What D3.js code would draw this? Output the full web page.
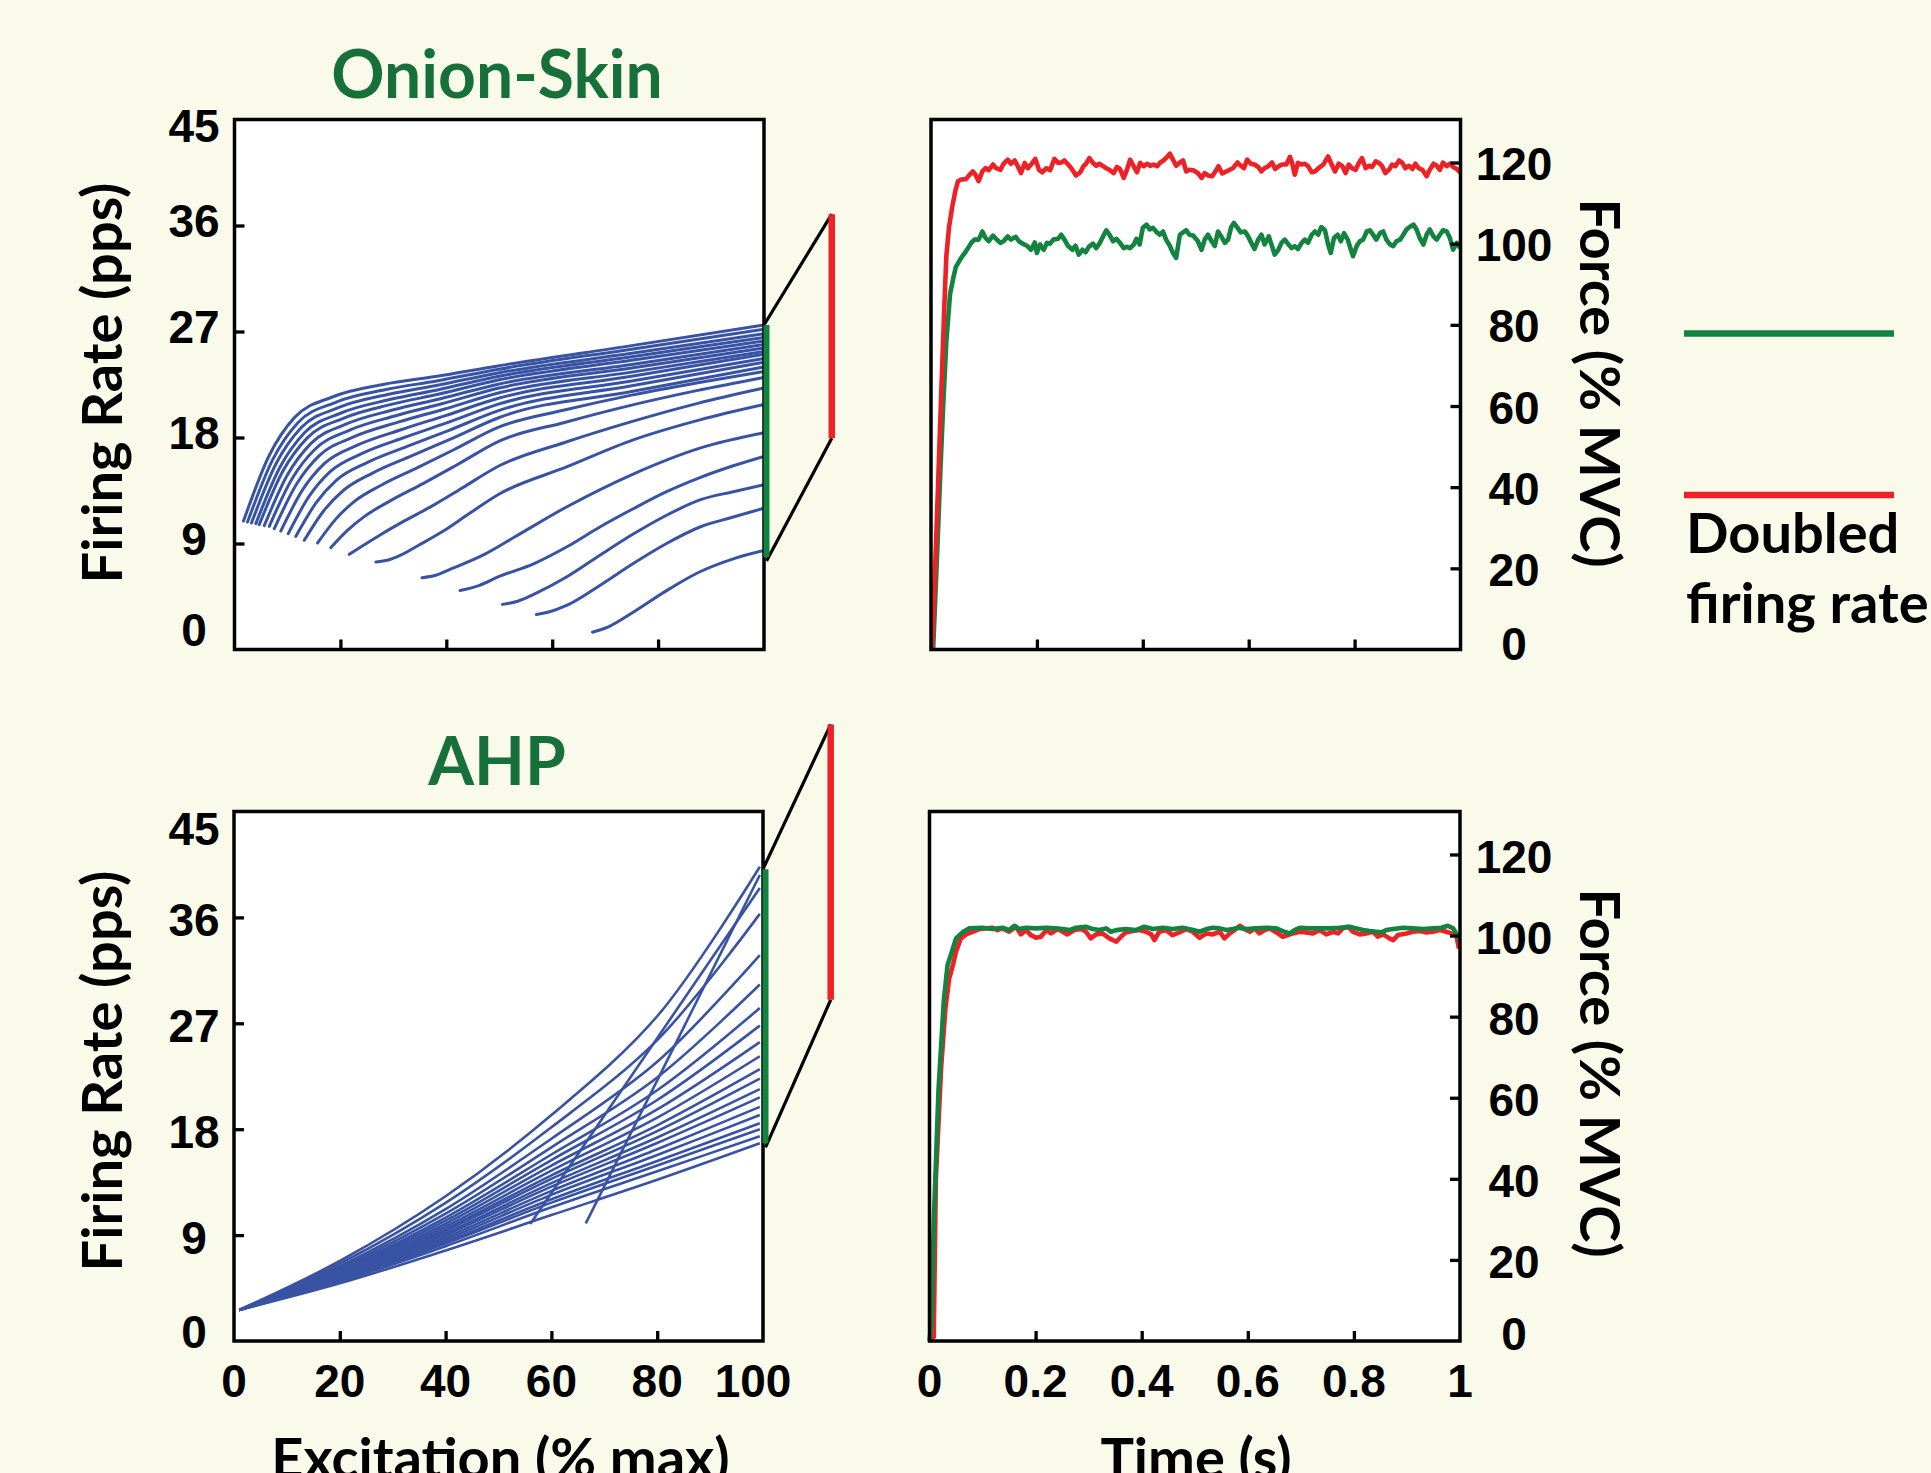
<!DOCTYPE html>
<html><head><meta charset="utf-8">
<script src="https://cdn.jsdelivr.net/npm/d3@7/dist/d3.min.js"></script>
<style>
html,body{margin:0;padding:0;background:#f9faea;}
svg{display:block;}
</style></head><body>
<svg id="chart" width="1931" height="1473"></svg>
<script>
// ---------------- DATA ----------------
const rateTicks = [0, 9, 18, 27, 36, 45];
const excitationTicks = [0, 20, 40, 60, 80, 100];
const forceTicks = [0, 20, 40, 60, 80, 100, 120];
const timeTicks = [0, 0.2, 0.4, 0.6, 0.8, 1];
const timeTickLabels = ["0", "0.2", "0.4", "0.6", "0.8", "1"];

const panelTitles = ["Onion-Skin", "AHP"];
const rateAxisTitle = "Firing Rate (pps)";
const forceAxisTitle = "Force (% MVC)";
const excitationAxisTitle = "Excitation (% max)";
const timeAxisTitle = "Time (s)";
const legendLabels = ["", "Doubled", "firing rate"];

// Onion-skin: firing rate (pps) vs excitation (% max), one array of [excitation, rate] per unit
const onionSkinUnits = [
  [[1.70,10.91],[6.53,16.45],[11.36,19.71],[18.60,21.46],[28.27,22.52],[37.93,23.18],[50,24.1],[75,25.8],[100,27.55]],
  [[2.46,10.82],[7.21,16.12],[11.97,19.26],[19.10,20.99],[28.61,22.07],[38.12,22.80],[50,23.8],[75,25.5],[100,27.2]],
  [[3.21,10.74],[7.89,15.81],[12.57,18.82],[19.59,20.53],[28.94,21.65],[38.30,22.43],[50,23.5],[75,25.15],[100,26.8]],
  [[4.03,10.69],[8.63,15.51],[13.22,18.40],[20.12,20.08],[29.31,21.22],[38.51,22.06],[50,23.2],[75,24.85],[100,26.5]],
  [[4.67,10.60],[9.20,15.19],[13.74,17.97],[20.54,19.63],[29.60,20.81],[38.67,21.69],[50,22.9],[75,24.55],[100,26.2]],
  [[5.62,10.52],[10.06,14.87],[14.50,17.52],[21.15,19.15],[30.03,20.35],[38.91,21.29],[50,22.55],[75,24.2],[100,25.9]],
  [[6.56,10.46],[10.90,14.52],[15.25,17.02],[21.76,18.63],[30.45,19.85],[39.14,20.86],[50,22.2],[75,23.9],[100,25.6]],
  [[7.51,10.26],[11.76,14.07],[16.01,16.46],[22.38,18.03],[30.88,19.30],[39.38,20.38],[50,21.8],[75,23.55],[100,25.3]],
  [[8.75,10.06],[12.88,13.57],[17.00,15.80],[23.19,17.35],[31.44,18.66],[39.69,19.84],[50,21.35],[75,23.2],[100,25.06]],
  [[10.15,9.84],[14.14,13.04],[18.12,15.12],[24.10,16.65],[32.07,18.00],[40.04,19.24],[50,20.85],[75,22.8],[100,24.7]],
  [[11.59,9.61],[15.43,12.47],[19.27,14.38],[25.03,15.87],[32.72,17.26],[40.40,18.59],[50,20.3],[75,22.4],[100,24.4]],
  [[13.18,9.27],[16.86,11.78],[20.54,13.50],[26.07,14.98],[33.43,16.44],[40.80,17.86],[50,19.7],[75,21.9],[100,24.0]],
  [[15.69,9.04],[19.12,11.07],[22.55,12.54],[27.70,13.95],[34.56,15.44],[41.42,16.96],[50,18.9],[62.5,20.35],[75,21.6],[87.5,22.65],[100,23.6]],
  [[18.20,8.65],[21.38,10.13],[24.56,11.30],[29.33,12.60],[35.69,14.11],[42.05,15.69],[50,17.7],[62.5,19.3],[75,20.75],[87.5,22.0],[100,23.1]],
  [[21.68,8.08],[24.51,8.89],[27.34,9.68],[31.59,10.79],[37.26,12.17],[42.92,13.69],[50,15.6],[62.5,17.6],[75,19.35],[87.5,20.9],[100,22.2]],
  [[26.71,7.43],[29.04,7.60],[31.37,8.01],[34.86,8.87],[39.52,10.08],[44.2,11.5],[50,13.2],[62.7,15.5],[75.3,17.8],[87.9,19.5],[100,20.8]],
  [[35.41,6.09],[38,6.3],[41,6.86],[47.3,8.1],[52.9,9.55],[62.7,12.1],[75.3,14.9],[87.9,17.1],[100,18.4]],
  [[42.6,5.01],[46,5.4],[50,6.2],[56.6,7.3],[62.7,8.7],[69,10.4],[75.3,11.95],[81.6,13.4],[87.9,14.6],[94.2,15.6],[100,16.4]],
  [[50.6,3.83],[53.5,4.1],[56.6,4.7],[62.7,6.15],[69,8.0],[75.3,9.8],[81.6,11.4],[87.9,12.7],[94.2,13.4],[100,14.0]],
  [[57,2.98],[59.5,3.2],[62.7,3.74],[69,5.44],[75.3,7.3],[81.6,9.0],[87.9,10.4],[94.2,11.25],[100,12.0]],
  [[67.6,1.47],[70.5,1.9],[75.3,3.17],[81.6,5.0],[87.9,6.6],[94.2,7.7],[100,8.4]]
];

// AHP: rates sampled at common excitation levels
const ahpExcitation = [1, 20, 40, 60, 80, 99.4];
const ahpRates = [
  [2.64, 6.80, 12.30, 19.20, 27.60, 40.3],
  [2.64, 6.57, 11.74, 18.16, 25.57, 36.3],
  [2.64, 6.35, 11.21, 17.19, 23.73, 32.8],
  [2.64, 6.19, 10.82, 16.46, 22.40, 30.3],
  [2.64, 6.05, 10.49, 15.85, 21.31, 28.3],
  [2.64, 5.95, 10.23, 15.38, 20.48, 26.8],
  [2.64, 5.84, 9.98, 14.91, 19.68, 25.4],
  [2.64, 5.75, 9.75, 14.48, 18.98, 24.2],
  [2.64, 5.66, 9.53, 14.08, 18.33, 23.1],
  [2.64, 5.59, 9.37, 13.78, 17.84, 22.3],
  [2.64, 5.51, 9.17, 13.42, 17.29, 21.4],
  [2.64, 5.44, 9.01, 13.12, 16.83, 20.7],
  [2.64, 5.36, 8.81, 12.76, 16.30, 19.9],
  [2.64, 5.28, 8.63, 12.42, 15.81, 19.2],
  [2.64, 5.20, 8.43, 12.04, 15.30, 18.5],
  [2.64, 5.14, 8.28, 11.76, 14.92, 18.0],
  [2.64, 5.05, 8.06, 11.36, 14.42, 17.4],
  [2.64, 4.90, 7.70, 10.70, 13.70, 16.8]
];
const ahpLateUnits = [
  [[56.0, 9.95], [99.4, 38.5]],
  [[66.5, 10.0], [99.4, 39.6]]
];

// rate ranges at maximal excitation (green) and doubled (red), pps
const onionRangeControl = [7.85, 27.55];
const onionRangeDoubled = [17.94, 36.96];
const ahpRangeControl = [16.8, 40.1];
const ahpRangeDoubled = [29.0, 52.4];
const doubledBarExcitation = 112.8;

// Force traces: [time (s), force (% MVC)]
const onionForceDoubled = [[0.002,0],[0.010,28],[0.018,58],[0.025,84],[0.029,97],[0.034,104],[0.040,109],[0.046,113],[0.051,115.4],[0.057,115.8],[0.066,115.9],[0.073,117.0],[0.079,117.8],[0.084,117.0],[0.090,115.4],[0.097,117.8],[0.103,118.6],[0.109,118.1],[0.117,119.5],[0.123,118.6],[0.131,118.2],[0.137,119.7],[0.145,120.7],[0.151,119.7],[0.158,120.5],[0.164,119.1],[0.170,117.4],[0.177,119.9],[0.183,118.6],[0.189,119.5],[0.197,120.9],[0.204,118.2],[0.210,117.6],[0.218,118.6],[0.225,118.1],[0.233,120.9],[0.240,119.9],[0.246,120.0],[0.252,120.5],[0.259,119.5],[0.265,118.6],[0.274,116.8],[0.282,117.6],[0.288,119.1],[0.293,119.7],[0.299,121.1],[0.306,119.9],[0.312,119.2],[0.318,119.7],[0.325,119.1],[0.331,118.6],[0.337,118.2],[0.345,117.4],[0.351,118.9],[0.357,118.4],[0.364,116.2],[0.370,118.2],[0.376,120.7],[0.381,119.5],[0.389,117.6],[0.395,119.9],[0.402,119.1],[0.408,119.7],[0.414,119.2],[0.420,119.5],[0.427,119.1],[0.433,120.0],[0.439,120.5],[0.446,121.4],[0.451,122.2],[0.457,120.7],[0.463,119.2],[0.470,120.0],[0.476,120.5],[0.482,117.8],[0.488,118.2],[0.495,118.1],[0.504,117.4],[0.511,116.2],[0.517,117.4],[0.523,116.8],[0.531,116.6],[0.537,117.8],[0.543,119.1],[0.550,117.3],[0.558,117.8],[0.564,118.2],[0.570,118.6],[0.579,120.0],[0.585,119.2],[0.591,118.6],[0.597,120.7],[0.604,119.7],[0.611,119.5],[0.618,118.9],[0.624,117.8],[0.630,118.6],[0.637,119.1],[0.644,120.0],[0.650,118.4],[0.657,119.1],[0.663,119.5],[0.671,119.5],[0.678,121.4],[0.682,119.9],[0.687,117.0],[0.693,119.9],[0.700,119.5],[0.706,119.7],[0.712,119.1],[0.719,117.6],[0.725,117.8],[0.732,118.6],[0.741,119.5],[0.750,121.5],[0.756,119.7],[0.763,117.8],[0.770,119.7],[0.777,119.1],[0.783,117.4],[0.789,119.5],[0.795,118.6],[0.802,118.2],[0.808,119.9],[0.814,121.1],[0.821,118.6],[0.827,119.2],[0.833,118.9],[0.840,120.3],[0.846,119.9],[0.852,119.1],[0.858,117.4],[0.865,118.2],[0.871,119.5],[0.877,119.1],[0.884,120.5],[0.890,119.9],[0.896,118.6],[0.903,119.2],[0.909,118.4],[0.915,119.7],[0.921,118.6],[0.928,118.2],[0.936,116.6],[0.942,118.2],[0.949,119.7],[0.955,119.2],[0.961,118.2],[0.967,120.0],[0.974,119.1],[0.980,119.7],[0.986,118.9],[0.993,118.4],[1.0,117.5]];

const onionForceControl = [[0.004,0],[0.012,25],[0.018,45],[0.023,60],[0.029,76],[0.036,87.6],[0.042,91.5],[0.047,94.3],[0.057,96.5],[0.066,98.1],[0.076,100.2],[0.082,101.0],[0.090,101.0],[0.097,103.0],[0.103,101.4],[0.109,100.6],[0.117,102.0],[0.123,101.2],[0.131,100.2],[0.137,100.6],[0.145,101.8],[0.151,101.0],[0.160,101.7],[0.166,100.6],[0.173,100.0],[0.181,99.5],[0.189,98.5],[0.196,100.3],[0.200,97.7],[0.206,99.8],[0.213,98.5],[0.219,100.2],[0.225,100.0],[0.231,101.0],[0.240,101.2],[0.246,102.2],[0.252,101.0],[0.259,99.4],[0.267,98.5],[0.273,99.5],[0.279,97.3],[0.286,98.5],[0.292,97.9],[0.298,99.2],[0.306,100.0],[0.312,98.9],[0.318,100.0],[0.325,101.8],[0.331,103.3],[0.337,102.2],[0.344,100.6],[0.350,101.2],[0.357,100.2],[0.364,98.9],[0.370,99.2],[0.376,98.9],[0.383,99.8],[0.388,101.2],[0.394,99.8],[0.400,103.9],[0.407,104.7],[0.413,103.5],[0.419,103.9],[0.425,103.0],[0.432,102.2],[0.438,103.0],[0.444,101.0],[0.451,99.5],[0.457,97.7],[0.463,96.5],[0.470,102.2],[0.476,102.8],[0.482,103.3],[0.488,102.2],[0.495,102.0],[0.504,100.6],[0.511,98.5],[0.517,101.0],[0.523,102.2],[0.530,100.6],[0.536,99.4],[0.542,103.0],[0.548,101.8],[0.555,100.2],[0.561,101.0],[0.567,104.1],[0.572,105.1],[0.579,103.9],[0.585,102.8],[0.593,103.0],[0.599,101.8],[0.605,100.2],[0.611,98.7],[0.618,101.0],[0.624,102.2],[0.630,99.8],[0.638,101.8],[0.644,99.4],[0.649,97.3],[0.656,98.5],[0.662,100.2],[0.668,101.0],[0.674,100.0],[0.681,98.9],[0.687,99.4],[0.693,98.7],[0.700,100.2],[0.706,101.0],[0.712,100.2],[0.719,102.2],[0.725,103.0],[0.731,102.2],[0.737,104.1],[0.744,103.3],[0.750,99.8],[0.755,97.7],[0.761,101.4],[0.768,102.2],[0.774,100.6],[0.780,102.6],[0.787,101.0],[0.793,98.5],[0.797,96.9],[0.804,99.4],[0.810,100.6],[0.816,101.0],[0.823,103.0],[0.829,103.3],[0.835,102.2],[0.841,101.0],[0.848,102.6],[0.854,103.0],[0.860,101.0],[0.867,99.8],[0.873,99.4],[0.879,100.6],[0.886,101.0],[0.892,102.2],[0.898,103.5],[0.904,104.1],[0.911,104.7],[0.917,103.5],[0.923,101.4],[0.930,99.8],[0.936,102.2],[0.942,103.5],[0.949,101.8],[0.955,101.0],[0.961,102.2],[0.967,103.3],[0.974,103.0],[0.980,101.4],[0.986,98.5],[0.993,100.2],[0.999,98.9]];

const ahpForceDoubled = [[0.0,0],[0.008,1],[0.012,40],[0.022,67.6],[0.030,82],[0.037,89.3],[0.044,92.7],[0.050,96.0],[0.059,99.3],[0.069,100.3],[0.081,100.94],[0.094,101.6],[0.107,101.77],[0.119,101.93],[0.128,101.35],[0.138,101.77],[0.150,100.94],[0.163,102.18],[0.172,100.29],[0.182,101.35],[0.191,100.12],[0.201,99.46],[0.210,99.71],[0.220,101.35],[0.229,100.53],[0.242,101.6],[0.251,100.94],[0.260,100.29],[0.273,101.35],[0.286,101.6],[0.295,100.94],[0.304,99.3],[0.314,100.29],[0.326,100.53],[0.339,99.3],[0.352,98.48],[0.361,99.71],[0.370,100.78],[0.383,101.11],[0.396,101.35],[0.408,100.94],[0.418,100.29],[0.424,98.89],[0.433,100.94],[0.446,101.35],[0.458,100.12],[0.471,100.78],[0.484,101.6],[0.496,100.94],[0.509,99.46],[0.522,100.53],[0.534,100.29],[0.547,100.94],[0.556,99.3],[0.566,100.53],[0.575,101.35],[0.585,102.42],[0.594,101.6],[0.604,100.94],[0.613,101.77],[0.622,100.53],[0.632,101.35],[0.641,101.77],[0.654,100.78],[0.666,99.71],[0.676,100.12],[0.685,100.53],[0.698,100.94],[0.710,100.78],[0.723,100.53],[0.735,101.35],[0.748,100.29],[0.761,100.94],[0.770,100.53],[0.779,101.77],[0.789,102.18],[0.798,100.94],[0.811,100.29],[0.823,100.53],[0.836,100.94],[0.845,99.71],[0.855,100.29],[0.867,99.3],[0.874,98.89],[0.883,100.12],[0.899,100.53],[0.911,100.94],[0.924,101.11],[0.937,100.78],[0.949,100.94],[0.962,101.35],[0.974,100.94],[0.984,100.53],[0.993,100.12],[0.998,96.8]];

const ahpForceControl = [[0.0,0],[0.004,5],[0.008,29],[0.017,62],[0.027,84],[0.034,92.7],[0.041,95.5],[0.050,99.3],[0.063,100.9],[0.075,101.8],[0.100,101.93],[0.119,101.6],[0.138,101.93],[0.150,101.35],[0.160,102.42],[0.169,101.6],[0.182,101.93],[0.201,101.77],[0.220,101.93],[0.238,101.77],[0.251,101.6],[0.264,101.35],[0.276,101.93],[0.295,102.18],[0.308,101.6],[0.320,101.35],[0.333,101.77],[0.342,100.94],[0.352,101.35],[0.370,101.6],[0.389,101.35],[0.405,102.18],[0.421,101.6],[0.440,101.93],[0.458,101.6],[0.477,101.93],[0.497,101.35],[0.509,100.94],[0.522,101.6],[0.534,101.93],[0.547,101.77],[0.560,101.35],[0.572,101.6],[0.582,101.93],[0.597,101.6],[0.616,101.77],[0.635,101.93],[0.654,101.77],[0.669,100.94],[0.679,100.53],[0.688,101.35],[0.698,101.93],[0.717,101.77],[0.735,101.77],[0.754,101.77],[0.773,101.93],[0.792,102.18],[0.805,101.77],[0.817,101.35],[0.830,101.11],[0.842,100.94],[0.852,100.78],[0.861,101.35],[0.874,101.6],[0.893,101.93],[0.911,101.77],[0.930,101.6],[0.949,101.77],[0.965,101.93],[0.977,102.42],[0.987,101.77],[0.993,100.53],[0.998,98.9]];

// ---------------- DRAWING ----------------
const svg = d3.select('#chart');
svg.append('rect').attr('width', 1931).attr('height', 1473).attr('fill', '#f9faea');

const COL = {blue: '#3953a4', green: '#13843f', red: '#ee2127', title: '#17703a'};
const tickFont = '"Liberation Sans", Arial, Helvetica, sans-serif';
const titleFont = 'Lato, "Open Sans", sans-serif';

const P = {
  onion:  {x0: 234.5, x1: 764,    y0: 119.5, y1: 649.5, lab: {mid: -5, top: 6,  bot: -20}},
  ahp:    {x0: 234,   x1: 763,    y0: 811.5, y1: 1341,  lab: {mid: 2,  top: 17, bot: -10}},
  onionF: {x0: 931,   x1: 1460.5, y0: 119.5, y1: 649.5, lab: {mid: 1,  top: 0,  bot: -6}},
  ahpF:   {x0: 929.5, x1: 1460,   y0: 811.5, y1: 1341,  lab: {mid: 2,  top: 0,  bot: -7.5}}
};

function plotBg(p) {
  svg.append('rect').attr('x', p.x0).attr('y', p.y0).attr('width', p.x1 - p.x0).attr('height', p.y1 - p.y0).attr('fill', '#fff');
}
function frame(p) {
  svg.append('rect').attr('x', p.x0).attr('y', p.y0).attr('width', p.x1 - p.x0).attr('height', p.y1 - p.y0)
    .attr('fill', 'none').attr('stroke', '#000').attr('stroke-width', 3.5);
}
function inwardTicks(p, x, y, xVals, yVals, side) {
  const gx = svg.append('g').attr('transform', `translate(0,${p.y1})`)
    .call(d3.axisTop(x).tickValues(xVals).tickSize(10).tickFormat(''));
  const gy = side === 'left'
    ? svg.append('g').attr('transform', `translate(${p.x0},0)`).call(d3.axisRight(y).tickValues(yVals).tickSize(10).tickFormat(''))
    : svg.append('g').attr('transform', `translate(${p.x1},0)`).call(d3.axisLeft(y).tickValues(yVals).tickSize(10).tickFormat(''));
  [gx, gy].forEach(g => {
    g.select('.domain').remove();
    g.selectAll('line').attr('stroke', '#000').attr('stroke-width', 3.3);
    g.selectAll('text').remove();
  });
}
function yLabels(p, y, vals, cx, fmt) {
  const dmax = y.domain()[1];
  svg.append('g').selectAll('text').data(vals).join('text')
    .attr('x', cx)
    .attr('y', v => v === 0 ? p.y1 + p.lab.bot : (v === dmax ? p.y0 + p.lab.top : y(v) + p.lab.mid))
    .attr('dy', '0.36em')
    .attr('text-anchor', 'middle')
    .attr('font-family', tickFont).attr('font-weight', 700).attr('font-size', 46)
    .text(fmt);
}
function xLabels(x, vals, labels, baseline, lastShift) {
  svg.append('g').selectAll('text').data(vals).join('text')
    .attr('x', (v, i) => x(v) + (i === vals.length - 1 ? lastShift : 0))
    .attr('y', baseline)
    .attr('text-anchor', 'middle')
    .attr('font-family', tickFont).attr('font-weight', 700).attr('font-size', 46)
    .text((v, i) => labels[i]);
}
function title(txt, x, y, size, color, rot) {
  return svg.append('text')
    .attr('transform', `translate(${x},${y})` + (rot ? ` rotate(${rot})` : ''))
    .attr('text-anchor', 'middle')
    .attr('font-family', titleFont).attr('font-weight', 700).attr('font-size', size)
    .attr('fill', color).text(txt);
}
function connector(p, x, y, ctl, dbl) {
  const gx = p.x1 + 2.5, rx = x(doubledBarExcitation);
  svg.append('line').attr('x1', p.x1).attr('y1', y(ctl[1])).attr('x2', rx).attr('y2', y(dbl[1]))
    .attr('stroke', '#000').attr('stroke-width', 3.2);
  svg.append('line').attr('x1', gx).attr('y1', y(ctl[0]) + 4).attr('x2', rx).attr('y2', y(dbl[0]))
    .attr('stroke', '#000').attr('stroke-width', 3.2);
  svg.append('line').attr('x1', gx).attr('y1', y(ctl[0])).attr('x2', gx).attr('y2', y(ctl[1]))
    .attr('stroke', COL.green).attr('stroke-width', 6);
  svg.append('line').attr('x1', rx).attr('y1', y(dbl[0])).attr('x2', rx).attr('y2', y(dbl[1]))
    .attr('stroke', COL.red).attr('stroke-width', 6.5);
}

// ---- Onion-skin panel ----
{
  const p = P.onion;
  const x = d3.scaleLinear().domain([0, 100]).range([p.x0, p.x1]);
  const y = d3.scaleLinear().domain([0, 45]).range([p.y1, p.y0]);
  plotBg(p);
  const line = d3.line().x(d => x(d[0])).y(d => y(d[1])).curve(d3.curveMonotoneX);
  svg.append('g').selectAll('path').data(onionSkinUnits).join('path')
    .attr('d', line).attr('fill', 'none').attr('stroke', COL.blue).attr('stroke-width', 3.0)
    .attr('stroke-linecap', 'round');
  inwardTicks(p, x, y, excitationTicks.slice(1, -1), rateTicks.slice(1, -1), 'left');
  frame(p);
  connector(p, x, y, onionRangeControl, onionRangeDoubled);
  yLabels(p, y, rateTicks, 194, d => d);
  title(panelTitles[0], 497, 98, 66, COL.title);
  title(rateAxisTitle, 122, 383, 56, '#000', -90);
}

// ---- AHP panel ----
{
  const p = P.ahp;
  const x = d3.scaleLinear().domain([0, 100]).range([p.x0, p.x1]);
  const y = d3.scaleLinear().domain([0, 45]).range([p.y1, p.y0]);
  plotBg(p);
  const line = d3.line().x(d => x(d[0])).y(d => y(d[1])).curve(d3.curveCatmullRom.alpha(0.5));
  const units = ahpRates.map(r => r.map((v, i) => [ahpExcitation[i], v]));
  svg.append('g').selectAll('path').data(units.concat(ahpLateUnits)).join('path')
    .attr('d', line).attr('fill', 'none').attr('stroke', COL.blue).attr('stroke-width', 2.6);
  inwardTicks(p, x, y, excitationTicks.slice(1, -1), rateTicks.slice(1, -1), 'left');
  frame(p);
  connector(p, x, y, ahpRangeControl, ahpRangeDoubled);
  yLabels(p, y, rateTicks, 194, d => d);
  xLabels(x, excitationTicks, excitationTicks.map(String), 1397, -10);
  title(panelTitles[1], 497, 784.5, 66, COL.title);
  title(rateAxisTitle, 122, 1071, 56, '#000', -90);
  title(excitationAxisTitle, 500.5, 1478, 56, '#000');
}

// ---- Force panels ----
function forcePanel(p, red, green, showX, cy) {
  const x = d3.scaleLinear().domain([0, 1]).range([p.x0, p.x1]);
  const y = d3.scaleLinear().domain([0, 130.6]).range([p.y1, p.y0]);
  plotBg(p);
  const line = d3.line().x(d => x(d[0])).y(d => y(d[1]));
  const order = showX ? [[red, COL.red], [green, COL.green]] : [[green, COL.green], [red, COL.red]];
  order.forEach(([d, c]) => svg.append('path').datum(d).attr('d', line).attr('fill', 'none')
    .attr('stroke', c).attr('stroke-width', 4.6).attr('stroke-linejoin', 'round'));
  inwardTicks(p, x, y, timeTicks.slice(1, -1), forceTicks.slice(1), 'right');
  frame(p);
  yLabels(p, y, forceTicks, 1514, d => d);
  if (showX) xLabels(x, timeTicks, timeTickLabels, 1397, 0);
  title(forceAxisTitle, 1580, cy, 56, '#000', 90);
}
forcePanel(P.onionF, onionForceDoubled, onionForceControl, false, 383);
forcePanel(P.ahpF, ahpForceDoubled, ahpForceControl, true, 1073);
title(timeAxisTitle, 1196, 1478, 56, '#000');

// ---- Legend ----
const legend = svg.append('g');
legend.append('line').attr('x1', 1684).attr('x2', 1894).attr('y1', 333.5).attr('y2', 333.5)
  .attr('stroke', COL.green).attr('stroke-width', 6.5);
legend.append('line').attr('x1', 1684).attr('x2', 1894).attr('y1', 495).attr('y2', 495)
  .attr('stroke', COL.red).attr('stroke-width', 6.5);
legend.append('text').attr('x', 1686).attr('y', 552.6).attr('font-family', titleFont).attr('font-weight', 700)
  .attr('font-size', 56).text(legendLabels[1]);
legend.append('text').attr('x', 1686).attr('y', 623.4).attr('font-family', titleFont).attr('font-weight', 700)
  .attr('font-size', 56).text(legendLabels[2]);
</script>
</body></html>
